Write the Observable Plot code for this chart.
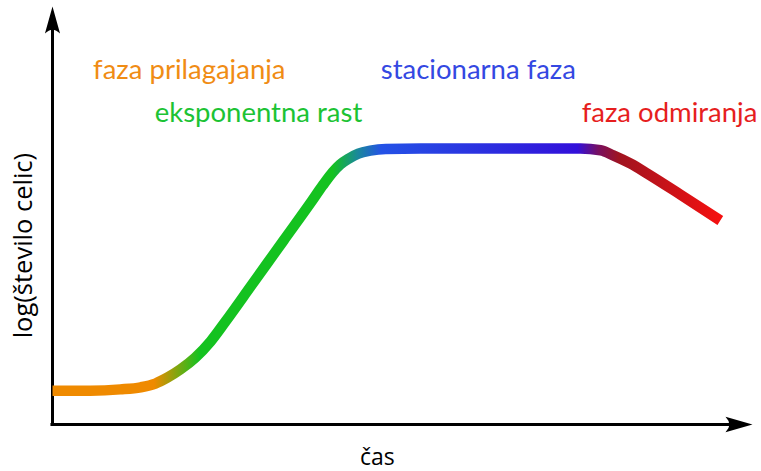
<!DOCTYPE html>
<html>
<head>
<meta charset="utf-8">
<script src="https://cdn.jsdelivr.net/npm/d3@7"></script>
<script src="https://cdn.jsdelivr.net/npm/@observablehq/plot@0.6"></script>
<style>
  html, body { margin: 0; padding: 0; background: white; }
</style>
</head>
<body>
<div id="chart"></div>
<script>
// Growth curve (arbitrary units): time vs log(cell count)
const time = [0, 5.4, 9.7, 12.6, 14.7, 16.4, 18.3, 20.4, 22.6, 24.7, 28.3, 33, 36.9, 38.6, 40, 41.1, 42.3, 43.7, 45.4, 47.6, 52.6, 64, 75.4, 78.3, 80.1, 82.6, 85, 89.7, 95.4];
const logN = [8.1, 8.1, 8.4, 8.9, 9.8, 11.2, 13.2, 16.0, 19.9, 24.6, 33.0, 44.0, 53.1, 57.2, 60.3, 62.2, 63.6, 64.8, 65.5, 65.9, 66.0, 66.0, 66.0, 65.6, 64.4, 62.4, 60.0, 55.0, 48.8];

// Phase labels
const phaseNames = ["faza prilagajanja", "eksponentna rast", "stacionarna faza", "faza odmiranja"];
const phaseColors = ["#f08c14", "#1cc334", "#3448e2", "#e61e1e"];
const phaseLabelTime = [5.8, 14.6, 46.9, 75.6];
const phaseLabelLog = [82.6, 72.3, 82.6, 72.3];

// Colour gradient along time
const gradientTime = [0, 14.5, 21, 40, 43.5, 47, 75, 78, 81, 95.4];
const gradientColor = ["#ef8a00", "#ef8a00", "#14c220", "#14c220", "#1a8a98", "#2452e6", "#3210da", "#781060", "#a01420", "#f51010"];

const series = time.map((t, i) => ({time: t, logN: logN[i]}));
const labels = phaseNames.map((name, i) => ({name, color: phaseColors[i], time: phaseLabelTime[i], logN: phaseLabelLog[i]}));

const stealthUp = {
  draw(context, size) {
    const r = Math.sqrt(size / Math.PI);
    const w = r * 0.28;
    context.moveTo(0, 0);
    context.lineTo(w, r);
    context.quadraticCurveTo(0, r * 0.72, -w, r);
    context.closePath();
  }
};
const stealthRight = {
  draw(context, size) {
    const r = Math.sqrt(size / Math.PI);
    const w = r * 0.29;
    context.moveTo(0, 0);
    context.lineTo(-r, w);
    context.quadraticCurveTo(-r * 0.72, 0, -r, -w);
    context.closePath();
  }
};

const NS = "http://www.w3.org/2000/svg";
function gradientDefs(index, scales) {
  const defs = document.createElementNS(NS, "defs");
  const lg = document.createElementNS(NS, "linearGradient");
  lg.setAttribute("id", "growth");
  lg.setAttribute("gradientUnits", "userSpaceOnUse");
  const x0 = scales.x(0), x1 = scales.x(100);
  lg.setAttribute("x1", x0);
  lg.setAttribute("x2", x1);
  lg.setAttribute("y1", 0);
  lg.setAttribute("y2", 0);
  gradientTime.forEach((t, i) => {
    const s = document.createElementNS(NS, "stop");
    s.setAttribute("offset", (scales.x(t) - x0) / (x1 - x0));
    s.setAttribute("stop-color", gradientColor[i]);
    lg.appendChild(s);
  });
  defs.appendChild(lg);
  return defs;
}

const chart = Plot.plot({
  width: 761,
  height: 471,
  marginLeft: 52,
  marginRight: 9,
  marginTop: 6,
  marginBottom: 47,
  x: {domain: [0, 100], axis: null},
  y: {domain: [0, 100], axis: null},
  style: {fontFamily: "Lato", background: "white", color: "black"},
  marks: [
    gradientDefs,
    Plot.ruleY([0], {x1: -0.22, x2: 97.5, stroke: "black", strokeWidth: 3}),
    Plot.ruleX([0], {y1: 0, y2: 96, stroke: "black", strokeWidth: 3}),
    Plot.dot([{x: 0, y: 100}], {x: "x", y: "y", symbol: stealthUp, r: 27, fill: "black", stroke: "none"}),
    Plot.dot([{x: 100, y: 0}], {x: "x", y: "y", symbol: stealthRight, r: 27, fill: "black", stroke: "none"}),
    Plot.line(series, {x: "time", y: "logN", curve: "monotone-x", stroke: "url(#growth)", strokeWidth: 10.5, strokeLinecap: "butt", strokeLinejoin: "round"}),
    Plot.text(labels, {x: "time", y: "logN", text: "name", fill: "color", textAnchor: "start", lineAnchor: "bottom", fontSize: 27.5, fontFamily: "Lato"}),
    Plot.text(["čas"], {x: 46.4, y: -9.7, text: d => d, textAnchor: "middle", lineAnchor: "bottom", fontSize: 23, fill: "black", fontFamily: "Open Sans"}),
    Plot.text(["log(število celic)"], {x: -3, y: 42.8, text: d => d, rotate: -90, textAnchor: "middle", lineAnchor: "bottom", fontSize: 25.5, fill: "black", fontFamily: "Open Sans"})
  ]
});
document.getElementById("chart").appendChild(chart);
</script>
</body>
</html>
